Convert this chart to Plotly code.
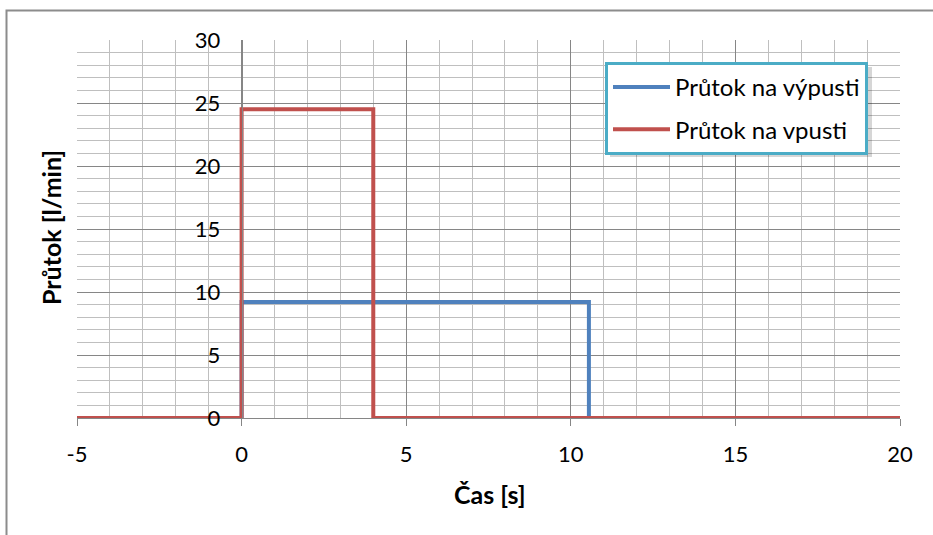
import plotly.graph_objects as go

# Data
time_out = [-5, 0, 0, 10.55, 10.55, 20]
flow_out = [0, 0, 9.2, 9.2, 0, 0]
time_in = [-5, 0, 0, 4, 4, 20]
flow_in = [0, 0, 24.5, 24.5, 0, 0]
name_out = "Průtok na výpusti"
name_in = "Průtok na vpusti"
x_title = "Čas [s]"
y_title = "Průtok [l/min]"
x_ticks = [-5, 0, 5, 10, 15, 20]
x_ticktext = ["-5", "0", "5", "10", "15", "20"]
y_ticks = [0, 5, 10, 15, 20, 25, 30]
y_ticktext = ["0", "5", "10", "15", "20", "25", "30"]

FONT = "Lato, Carlito, sans-serif"
W, H = 933, 535
L, R, T, B = 77, 33, 40, 117
pw, ph = W - L - R, H - T - B

def px(xp):
    return (xp - L) / pw

def py(yp):
    return (H - B - yp) / ph

fig = go.Figure()
fig.add_trace(go.Scatter(x=time_out, y=flow_out, mode="lines", name=name_out,
                         legendgroup="a",
                         line=dict(color="#4F81BD", width=4)))
fig.add_trace(go.Scatter(x=time_in, y=flow_in, mode="lines", name=name_in,
                         legendgroup="b",
                         line=dict(color="#C0504D", width=4)))

major = "#868686"
minor = "#bfbfbf"

fig.update_layout(
    width=W, height=H,
    margin=dict(l=L, r=R, t=T, b=B),
    paper_bgcolor="white", plot_bgcolor="white",
    font=dict(family=FONT, size=22, color="black"),
    showlegend=True,
    legend=dict(x=px(605), y=py(62), xanchor="left", yanchor="top",
                bgcolor="white", bordercolor="#4BACC6", borderwidth=3,
                font=dict(family=FONT, size=24, color="black"),
                tracegroupgap=8, itemwidth=57),
    xaxis=dict(range=[-5, 20], tickmode="array", tickvals=x_ticks, ticktext=x_ticktext,
               showgrid=True,
               gridcolor=major, gridwidth=1, zeroline=False,
               showline=True, linecolor=major, linewidth=1,
               ticks="outside", ticklen=7, tickcolor=major, tickwidth=1,
               ticklabelstandoff=10,
               minor=dict(dtick=1, tick0=0, showgrid=True, gridcolor=minor, gridwidth=1, ticks=""),
               fixedrange=True),
    yaxis=dict(range=[0, 30], tickmode="array", tickvals=y_ticks, ticktext=y_ticktext,
               showgrid=True,
               gridcolor=major, gridwidth=1, zeroline=False,
               anchor="free", position=0.2,
               showline=True, linecolor=major, linewidth=1,
               ticks="", ticklabelstandoff=17,
               minor=dict(dtick=1, tick0=0, showgrid=True, gridcolor=minor, gridwidth=1),
               fixedrange=True),
    annotations=[
        dict(text="<b>" + x_title + "</b>", xref="paper", yref="paper",
             x=px(489), y=py(494), xanchor="center", yanchor="middle",
             showarrow=False, font=dict(family=FONT, size=25)),
        dict(text="<b>" + y_title + "</b>", xref="paper", yref="paper",
             x=px(51), y=py(228), xanchor="center", yanchor="middle",
             textangle=-90, showarrow=False, font=dict(family=FONT, size=25)),
    ],
    shapes=[
        dict(type="rect", xref="paper", yref="paper",
             x0=px(6.5), x1=px(945), y0=py(550), y1=py(10.5),
             line=dict(color="#8c8c8c", width=2), fillcolor="rgba(0,0,0,0)",
             layer="below"),
        dict(type="rect", xref="paper", yref="paper",
             x0=px(610), x1=px(872), y0=py(157), y1=py(67),
             line=dict(width=0), fillcolor="rgba(0,0,0,0.16)", layer="above"),
    ],
)

fig.write_html("out.html")
